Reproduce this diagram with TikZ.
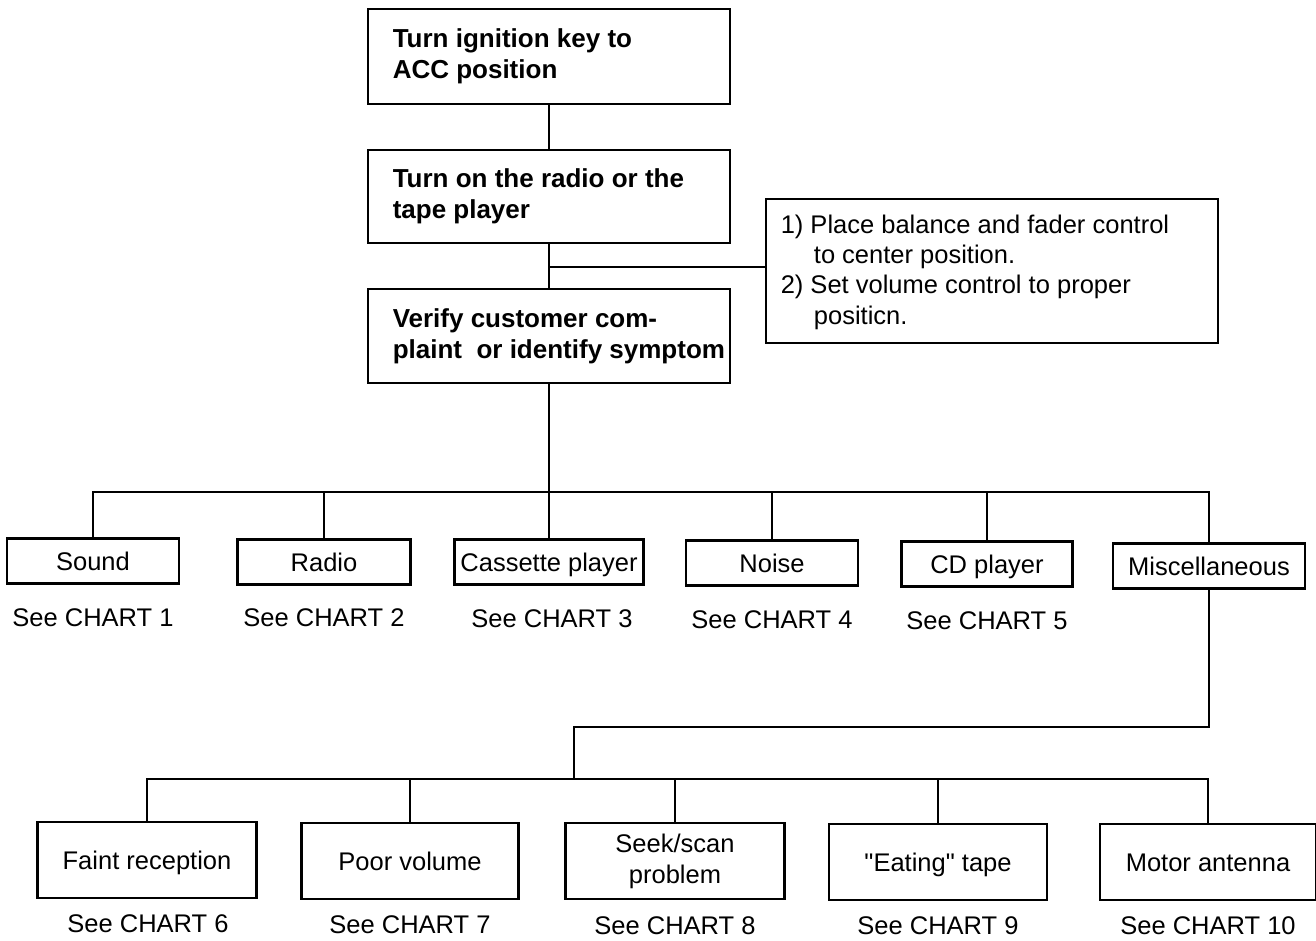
\documentclass[tikz,border=0pt]{standalone}
\usepackage{fontspec}
\setmainfont{Liberation Sans}[Ligatures=TeXOff]
\begin{document}
\begin{tikzpicture}[x=1pt,y=-1pt,
  frame/.style={draw, line width=2.9pt, inner sep=0pt},
  bigbox/.style={frame, minimum width=362pt},
  boldtxt/.style={inner sep=0pt, anchor=west, align=left,
    font=\fontsize{26}{31}\selectfont\bfseries},
  notetxt/.style={inner sep=0pt, anchor=west, align=left,
    font=\fontsize{25.5}{30.3}\selectfont},
  oneline/.style={text height=20pt, text depth=2pt},
  small/.style={frame, minimum height=45pt, align=center, oneline,
    font=\fontsize{25.5}{31}\selectfont},
  widebase/.style={frame, minimum height=76pt, align=center,
    font=\fontsize{25.5}{31}\selectfont},
  wide/.style={widebase, oneline},
  lbl/.style={inner sep=0pt, oneline, font=\fontsize{25.5}{31}\selectfont},
  conn/.style={line width=2.6pt}]
\useasboundingbox (0,0) rectangle (1316,941);

% top column
\node[bigbox, minimum height=95pt] (b1) at (549,56.5) {};
\node[boldtxt] (b1t) at ([xshift=26pt]b1.west) {Turn ignition key to\\ACC position};
\node[bigbox, minimum height=93pt] (b2) at (549,196.5) {};
\node[boldtxt] (b2t) at ([xshift=26pt]b2.west) {Turn on the radio or the\\tape player};
\node[bigbox, minimum height=94pt] (b3) at (549,336) {};
\node[boldtxt] (b3t) at ([xshift=26pt]b3.west) {Verify customer com-\\plaint~ or identify symptom};

% side note
\node[frame, minimum width=452pt, minimum height=144pt] (b4) at (992,271) {};
\node[notetxt] (b4t) at ([xshift=16pt,yshift=-1pt]b4.west)
  {1) Place balance and fader control\\\hspace*{1.3em}to center position.\\2) Set volume control to proper\\\hspace*{1.3em}positicn.};

% level 1
\node[small, minimum width=172pt] (sound) at (93,561) {Sound};
\node[small, minimum width=173pt] (radio) at (324,562) {Radio};
\node[small, minimum width=189pt] (cass)  at (549,562) {Cassette player};
\node[small, minimum width=172pt] (noise) at (772,563) {Noise};
\node[small, minimum width=171pt] (cd)    at (987,564) {CD player};
\node[small, minimum width=192pt] (misc)  at (1209,566) {Miscellaneous};

\node[lbl] (c1) at (93,617) {See CHART 1};
\node[lbl] (c2) at (324,617) {See CHART 2};
\node[lbl] (c3) at (552,618) {See CHART 3};
\node[lbl] (c4) at (772,619) {See CHART 4};
\node[lbl] (c5) at (987,620) {See CHART 5};

% level 2
\node[wide, minimum width=219pt] (faint) at (147,860) {Faint reception};
\node[wide, minimum width=217pt] (poor)  at (410,861) {Poor volume};
\node[widebase, minimum width=219pt] (seek) at (675,861) {Seek/scan\\problem};
\node[wide, minimum width=218pt] (eat)   at (938,862) {"Eating" tape};
\node[wide, minimum width=216pt] (motor) at (1208,862) {Motor antenna};

\node[lbl] (c6)  at (148,923) {See CHART 6};
\node[lbl] (c7)  at (410,924) {See CHART 7};
\node[lbl] (c8)  at (675,925) {See CHART 8};
\node[lbl] (c9)  at (938,925) {See CHART 9};
\node[lbl] (c10) at (1208,925) {See CHART 10};

% junctions
\coordinate (jn) at (549,267);
\coordinate (t1) at (549,492);
\coordinate (t2) at (574,727);
\coordinate (t3) at (574,779);

% connectors
\draw[conn] (b1.south) -- (b2.north);
\draw[conn] (b2.south) -- (b3.north);
\draw[conn] (jn) -- (jn -| b4.west);
\draw[conn] (b3.south) -- (t1);
\draw[conn] (sound.north) |- (t1) -| (misc.north);
\draw[conn] (radio.north) -- (radio.north |- t1);
\draw[conn] (cass.north) -- (t1);
\draw[conn] (noise.north) -- (noise.north |- t1);
\draw[conn] (cd.north) -- (cd.north |- t1);
\draw[conn] (misc.south) |- (t2) -- (t3);
\draw[conn] (faint.north) |- (t3) -| (motor.north);
\draw[conn] (poor.north) -- (poor.north |- t3);
\draw[conn] (seek.north) -- (seek.north |- t3);
\draw[conn] (eat.north) -- (eat.north |- t3);
\end{tikzpicture}
\end{document}
